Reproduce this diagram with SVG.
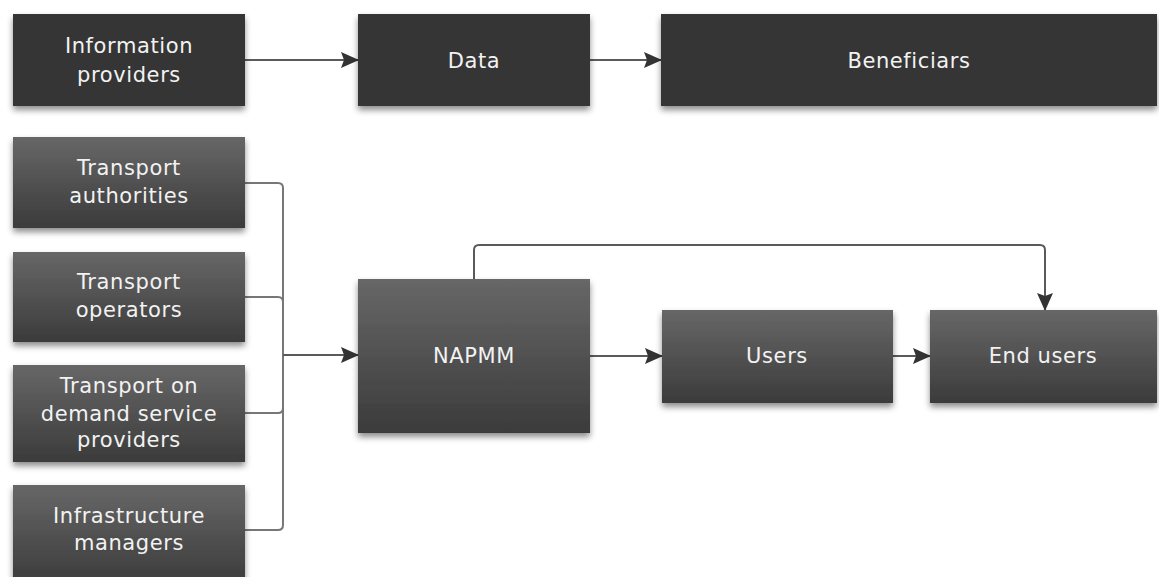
<svg xmlns="http://www.w3.org/2000/svg" width="1159" height="577" viewBox="0 0 1159 577">
<defs>
<linearGradient id="g" x1="0" y1="0" x2="0" y2="1">
<stop offset="0" stop-color="#676767"/>
<stop offset="1" stop-color="#3b3b3b"/>
</linearGradient>
<filter id="sh" x="-10%" y="-10%" width="120%" height="130%">
<feDropShadow dx="0" dy="4" stdDeviation="3" flood-color="#000" flood-opacity="0.45"/>
</filter>
<marker id="ah" markerWidth="18" markerHeight="16" refX="17" refY="8" orient="auto" markerUnits="userSpaceOnUse">
<path d="M0,0 L18,8 L0,16 L3,8 Z" fill="#333"/>
</marker>
<style>
.dark{fill:#363636;filter:url(#sh);}
.grad{fill:url(#g);filter:url(#sh);}
.t{font-family:"DejaVu Sans","Liberation Sans",sans-serif;font-size:21px;fill:#f2f2f2;text-anchor:middle;letter-spacing:0.6px;}
.c{fill:none;stroke:#777;stroke-width:2;}
.ca{fill:none;stroke:#5a5a5a;stroke-width:2;marker-end:url(#ah);}
</style>
</defs>
<rect width="1159" height="577" fill="#fff"/>
<g id="connectors">
<path class="ca" d="M245,60 H358"/>
<path class="ca" d="M590,60 H661"/>
<path class="c" d="M245,183 H278 Q283,183 283,188 V525 Q283,530 278,530 H245"/>
<path class="c" d="M245,297 H278 Q283,297 283,302"/>
<path class="c" d="M245,413 H278 Q283,413 283,408"/>
<path class="ca" d="M283,355 H358"/>
<path class="ca" d="M590,356 H662"/>
<path class="ca" d="M893,356 H930"/>
<path class="ca" d="M474,279 V250 Q474,245 479,245 H1040 Q1045,245 1045,250 V310"/>
</g>
<g id="info-providers"><rect class="dark" x="13" y="14" width="232" height="92"/><text class="t" x="129" y="53">Information</text><text class="t" x="129" y="82">providers</text></g>
<g id="data"><rect class="dark" x="358" y="14" width="232" height="92"/><text class="t" x="474" y="68">Data</text></g>
<g id="beneficiars"><rect class="dark" x="661" y="14" width="496" height="92"/><text class="t" x="909" y="68">Beneficiars</text></g>
<g id="transport-authorities"><rect class="grad" x="13" y="137" width="232" height="91"/><text class="t" x="129" y="175">Transport</text><text class="t" x="129" y="203">authorities</text></g>
<g id="transport-operators"><rect class="grad" x="13" y="252" width="232" height="90"/><text class="t" x="129" y="289">Transport</text><text class="t" x="129" y="317">operators</text></g>
<g id="transport-on-demand"><rect class="grad" x="13" y="365" width="232" height="97"/><text class="t" x="129" y="393">Transport on</text><text class="t" x="129" y="421">demand service</text><text class="t" x="129" y="447">providers</text></g>
<g id="infrastructure-managers"><rect class="grad" x="13" y="485" width="232" height="100"/><text class="t" x="129" y="523">Infrastructure</text><text class="t" x="129" y="550">managers</text></g>
<g id="napmm"><rect class="grad" x="358" y="279" width="232" height="154"/><text class="t" x="474" y="363">NAPMM</text></g>
<g id="users"><rect class="grad" x="662" y="310" width="231" height="93"/><text class="t" x="777" y="363">Users</text></g>
<g id="end-users"><rect class="grad" x="930" y="310" width="227" height="93"/><text class="t" x="1043" y="363">End users</text></g>
</svg>
